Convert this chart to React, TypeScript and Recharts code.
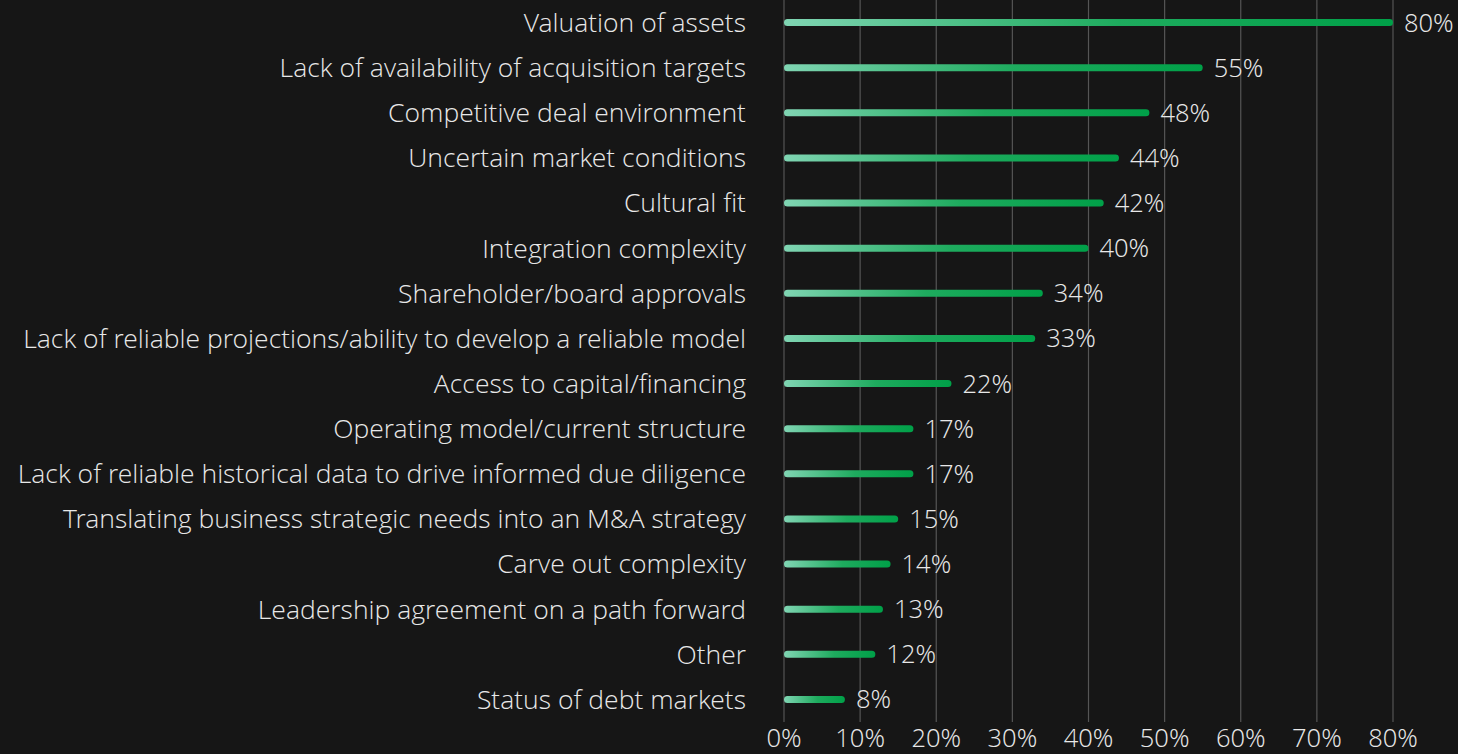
import { BarChart, Bar, XAxis, YAxis, CartesianGrid, LabelList } from "recharts"

const categories = [
  "Valuation of assets",
  "Lack of availability of acquisition targets",
  "Competitive deal environment",
  "Uncertain market conditions",
  "Cultural fit",
  "Integration complexity",
  "Shareholder/board approvals",
  "Lack of reliable projections/ability to develop a reliable model",
  "Access to capital/financing",
  "Operating model/current structure",
  "Lack of reliable historical data to drive informed due diligence",
  "Translating business strategic needs into an M&A strategy",
  "Carve out complexity",
  "Leadership agreement on a path forward",
  "Other",
  "Status of debt markets",
]

const values = [80, 55, 48, 44, 42, 40, 34, 33, 22, 17, 17, 15, 14, 13, 12, 8]

const xTicks = [0, 10, 20, 30, 40, 50, 60, 70, 80]

const data = categories.map((name, i) => ({ name, value: values[i] }))

const bg = "#161616"
const textColor = "#e8e8e8"
const font = "'Open Sans Light', 'Open Sans', sans-serif"

export default function App() {
  return (
    <div
      style={{
        position: "absolute",
        left: 0,
        top: 0,
        width: 1458,
        height: 754,
        background: bg,
        fontFamily: font,
      }}
    >
      <BarChart
        width={1458}
        height={754}
        data={data}
        layout="vertical"
        margin={{ top: 0, right: 65, bottom: 0, left: 0 }}
        barCategoryGap={0}
      >
        <defs>
          {/* light mint to green, per bar */}
          <linearGradient id="barGrad" x1="0" y1="0" x2="1" y2="0">
            <stop offset="0%" stopColor="#80d5b3" />
            <stop offset="55%" stopColor="#1eab5e" />
            <stop offset="100%" stopColor="#00a048" />
          </linearGradient>
        </defs>
        <CartesianGrid horizontal={false} stroke="#555555" strokeWidth={1.2} />
        <XAxis
          type="number"
          domain={[0, 80]}
          ticks={xTicks}
          tickFormatter={(v) => `${v}%`}
          axisLine={false}
          tickLine={false}
          tickSize={0}
          tickMargin={7}
          height={32}
          interval={0}
          tick={{ fill: textColor, fontSize: 25.5, fontWeight: 300, fontFamily: font }}
        />
        <YAxis
          type="category"
          dataKey="name"
          width={784}
          axisLine={false}
          tickLine={false}
          tickSize={0}
          tickMargin={38}
          interval={0}
          tick={{ fill: textColor, fontSize: 26.5, fontWeight: 300, fontFamily: font }}
        />
        <Bar dataKey="value" fill="url(#barGrad)" barSize={7} radius={3.5} isAnimationActive={false}>
          <LabelList
            dataKey="value"
            position="right"
            offset={11}
            formatter={(v: number) => `${v}%`}
            style={{ fill: textColor, fontSize: 25.5, fontWeight: 300, fontFamily: font }}
          />
        </Bar>
      </BarChart>
    </div>
  )
}
